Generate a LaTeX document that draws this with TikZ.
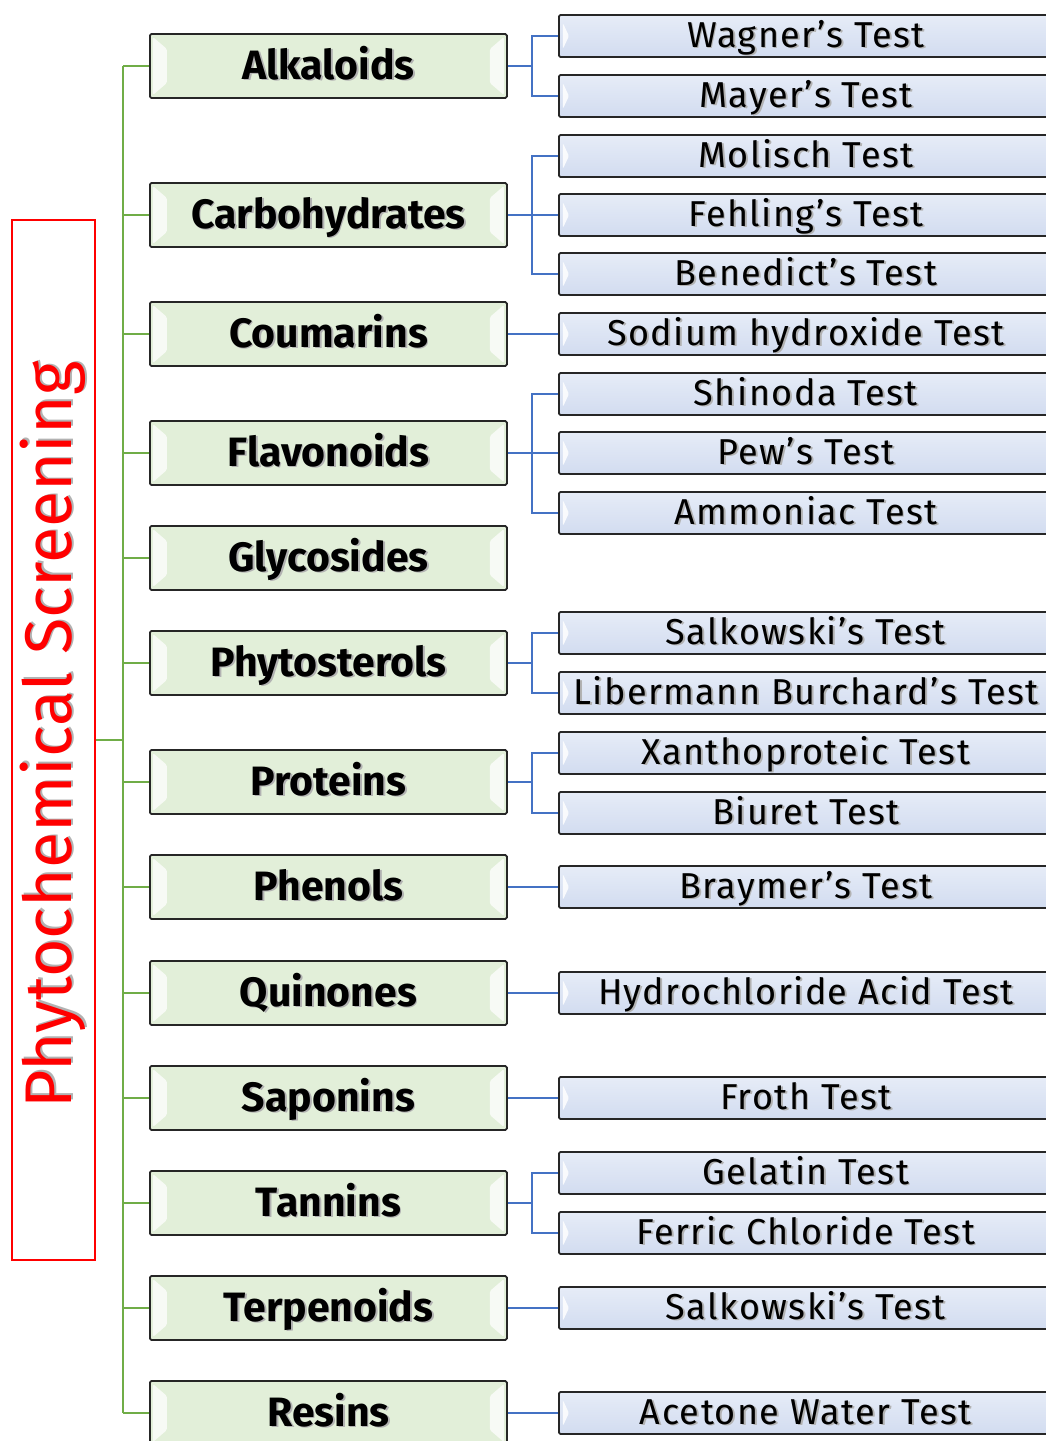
\documentclass[tikz,border=0pt]{standalone}
\usepackage{fontspec}
\setmainfont{Fira Sans}
\definecolor{catfill}{HTML}{E2EFD9}
\definecolor{testtop}{HTML}{E6ECF7}
\definecolor{testbot}{HTML}{D2DCF0}
\definecolor{gline}{HTML}{70AD47}
\definecolor{bline}{HTML}{4472C4}
\definecolor{edge}{HTML}{262626}
% text with a soft grey drop shadow
\newcommand\shtext[1]{\rlap{\kern1.8pt\raisebox{-1.8pt}{\textcolor{black!30}{#1}}}#1}
\tikzset{
  catbox/.style={draw=edge, line width=1.8pt, rounded corners=1.5pt, fill=catfill,
    minimum width=357pt, minimum height=64pt, inner sep=0pt, anchor=west,
    text height=30pt, text depth=4pt,
    font=\fontsize{41}{41}\selectfont\bfseries,
    path picture={
      \fill[white,opacity=0.75]
        ([xshift=3pt,yshift=-3pt]path picture bounding box.north west) -- ++(14pt,-12pt)
        -- ([xshift=17pt,yshift=15pt]path picture bounding box.south west)
        -- ([xshift=3pt,yshift=3pt]path picture bounding box.south west) -- cycle;
      \fill[white,opacity=0.75]
        ([xshift=-3pt,yshift=-3pt]path picture bounding box.north east) -- ++(-14pt,-12pt)
        -- ([xshift=-17pt,yshift=15pt]path picture bounding box.south east)
        -- ([xshift=-3pt,yshift=3pt]path picture bounding box.south east) -- cycle;
    }},
  testbox/.style={draw=edge, line width=1.8pt, rounded corners=1.5pt,
    top color=testtop, bottom color=testbot,
    minimum width=494pt, minimum height=42pt, inner sep=0pt, anchor=west,
    text height=28pt, text depth=6pt,
    font=\fontsize{36}{36}\selectfont\addfontfeatures{LetterSpace=4},
    path picture={
      \fill[white,opacity=0.85]
        ([xshift=4pt,yshift=-8pt]path picture bounding box.north west) -- ++(6pt,-13pt)
        -- ([xshift=4pt,yshift=8pt]path picture bounding box.south west) -- cycle;
    }},
  trunk/.style={draw=gline, line width=2.8pt},
  twig/.style={draw=bline, line width=2.8pt},
}
\begin{document}
\begin{tikzpicture}[x=1pt,y=-1pt]
\useasboundingbox (0,0) rectangle (1046,1441);
\clip (0,0) rectangle (1046,1441);

% title frame
\node[draw=red, line width=2.2pt, minimum width=83pt, minimum height=1040pt, inner sep=0pt]
  (frame) at (53.5,740) {};
\node[rotate=90, text=red, font=\fontsize{66}{66}\selectfont] (title) at (54,735)
  {\shtext{Phytochemical Screening}};

% reference columns
\coordinate (tx) at (123,0);
\coordinate (bx) at (532,0);

% classes
\node[catbox] (alk) at (149,66)   {\shtext{Alkaloids}};
\node[catbox] (car) at (149,215)  {\shtext{Carbohydrates}};
\node[catbox] (cou) at (149,334)  {\shtext{Coumarins}};
\node[catbox] (fla) at (149,453)  {\shtext{Flavonoids}};
\node[catbox] (gly) at (149,558)  {\shtext{Glycosides}};
\node[catbox] (phy) at (149,663)  {\shtext{Phytosterols}};
\node[catbox] (pro) at (149,782)  {\shtext{Proteins}};
\node[catbox] (phe) at (149,887)  {\shtext{Phenols}};
\node[catbox] (qui) at (149,993)  {\shtext{Quinones}};
\node[catbox] (sap) at (149,1098) {\shtext{Saponins}};
\node[catbox] (tan) at (149,1203) {\shtext{Tannins}};
\node[catbox] (ter) at (149,1308) {\shtext{Terpenoids}};
\node[catbox] (res) at (149,1413) {\shtext{Resins}};

% tests
\node[testbox] (wag) at (558,36)   {\shtext{Wagner’s Test}};
\node[testbox] (may) at (558,96)   {\shtext{Mayer’s Test}};
\node[testbox] (mol) at (558,156)  {\shtext{Molisch Test}};
\node[testbox] (feh) at (558,215)  {\shtext{Fehling’s Test}};
\node[testbox] (ben) at (558,274)  {\shtext{Benedict’s Test}};
\node[testbox] (sod) at (558,334)  {\shtext{Sodium hydroxide Test}};
\node[testbox] (shi) at (558,394)  {\shtext{Shinoda Test}};
\node[testbox] (pew) at (558,453)  {\shtext{Pew’s Test}};
\node[testbox] (amm) at (558,513)  {\shtext{Ammoniac Test}};
\node[testbox] (sal) at (558,633)  {\shtext{Salkowski’s Test}};
\node[testbox] (lib) at (558,693)  {\shtext{Libermann Burchard’s Test}};
\node[testbox] (xan) at (558,753)  {\shtext{Xanthoproteic Test}};
\node[testbox] (biu) at (558,813)  {\shtext{Biuret Test}};
\node[testbox] (bra) at (558,887)  {\shtext{Braymer’s Test}};
\node[testbox] (hyd) at (558,993)  {\shtext{Hydrochloride Acid Test}};
\node[testbox] (fro) at (558,1098) {\shtext{Froth Test}};
\node[testbox] (gel) at (558,1173) {\shtext{Gelatin Test}};
\node[testbox] (fer) at (558,1233) {\shtext{Ferric Chloride Test}};
\node[testbox] (tsa) at (558,1308) {\shtext{Salkowski’s Test}};
\node[testbox] (ace) at (558,1413) {\shtext{Acetone Water Test}};

% green trunk
\draw[trunk] (frame.east) -- (frame.east -| tx);
\draw[trunk] (alk.west -| tx) -- (res.west -| tx);
\foreach \c in {alk,car,cou,fla,gly,phy,pro,phe,qui,sap,tan,ter,res}
  \draw[trunk] (\c.west -| tx) -- (\c.west);

% blue twigs
\foreach \c/\tl in {alk/{wag,may}, car/{mol,feh,ben}, fla/{shi,pew,amm},
                    phy/{sal,lib}, pro/{xan,biu}, tan/{gel,fer}}{
  \draw[twig] (\c.east) -- (\c.east -| bx);
  \foreach \t in \tl
    \draw[twig] (\c.east -| bx) |- (\t.west);
}
\foreach \c/\t in {cou/sod, phe/bra, qui/hyd, sap/fro, ter/tsa, res/ace}
  \draw[twig] (\c.east) -- (\t.west);
\end{tikzpicture}
\end{document}
